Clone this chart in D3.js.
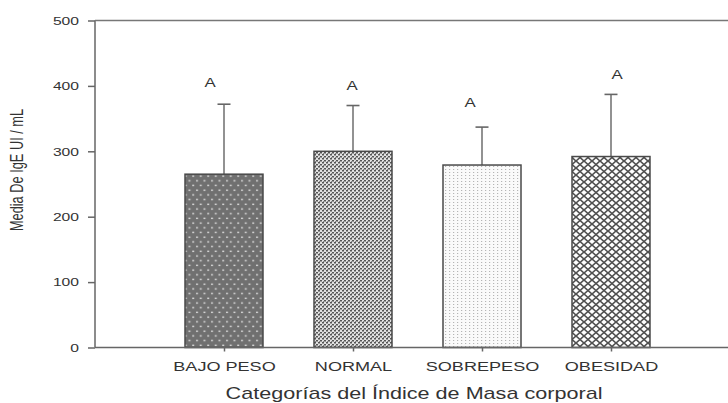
<!DOCTYPE html>
<html>
<head>
<meta charset="utf-8">
<script src="https://cdn.jsdelivr.net/npm/d3@7"></script>
<style>
  body { margin: 0; background: #fff; }
  svg { display: block; font-family: "Liberation Sans", Arial, sans-serif; }
</style>
</head>
<body>
<svg width="728" height="403"></svg>
<script>
// data
const categories = ["BAJO PESO", "NORMAL", "SOBREPESO", "OBESIDAD"];
const means = [265, 300, 279, 292];
const errTops = [372, 370, 337, 387];
const letters = ["A", "A", "A", "A"];
const letterLevels = [398, 393, 367, 410];
const yTicks = [0, 100, 200, 300, 400, 500];
const patterns = ["pBajo", "pNormal", "pSobre", "pObes"];

const svg = d3.select("svg");
const plotLeft = 95, plotRight = 740, plotTop = 20.5, plotBottom = 347.5;
const stretch = 1.35; // the source picture is wider than tall text would be
const letterShift = [-14, -1, -12, 6];

const y = d3.scaleLinear().domain([0, 500]).range([plotBottom, plotTop]);
const x = d3.scalePoint().domain(categories).range([plotLeft, plotRight]).padding(1);
const barW = 78;

// fill patterns
const defs = svg.append("defs");

// dark gray with light dots, staggered
let p = defs.append("pattern").attr("id", "pBajo").attr("patternUnits", "userSpaceOnUse")
  .attr("width", 7.5).attr("height", 9.4);
p.append("rect").attr("width", 7.5).attr("height", 9.4).attr("fill", "#707070");
p.append("rect").attr("x", 1).attr("y", 1.5).attr("width", 2).attr("height", 1.4).attr("fill", "#d8d8d8");
p.append("rect").attr("x", 4.75).attr("y", 6.2).attr("width", 2).attr("height", 1.4).attr("fill", "#d8d8d8");

// dense weave
p = defs.append("pattern").attr("id", "pNormal").attr("patternUnits", "userSpaceOnUse")
  .attr("width", 4).attr("height", 4);
p.append("rect").attr("width", 4).attr("height", 4).attr("fill", "#e2e2e2");
p.append("rect").attr("x", 0).attr("y", 0).attr("width", 2).attr("height", 1.5).attr("fill", "#555");
p.append("rect").attr("x", 2).attr("y", 2).attr("width", 2).attr("height", 1.5).attr("fill", "#555");
p.append("rect").attr("x", 3).attr("y", 1).attr("width", 1).attr("height", 1).attr("fill", "#888");

// light fine dots
p = defs.append("pattern").attr("id", "pSobre").attr("patternUnits", "userSpaceOnUse")
  .attr("width", 4).attr("height", 3);
p.append("rect").attr("width", 4).attr("height", 3).attr("fill", "#fafafa");
p.append("rect").attr("x", 1).attr("y", 1).attr("width", 1.2).attr("height", 1).attr("fill", "#b5b5b5");

// crosshatch
p = defs.append("pattern").attr("id", "pObes").attr("patternUnits", "userSpaceOnUse")
  .attr("width", 8).attr("height", 7);
p.append("rect").attr("width", 8).attr("height", 7).attr("fill", "#fff");
p.append("path").attr("d", "M0,0L8,7M0,7L8,0")
  .attr("stroke", "#505050").attr("stroke-width", 1.6).attr("fill", "none");

const rows = categories.map((c, i) => ({
  cat: c, mean: means[i], top: errTops[i], letter: letters[i],
  level: letterLevels[i], shift: letterShift[i], pat: patterns[i]
}));

// error bars (drawn under the bars)
svg.selectAll(".err")
  .data(rows)
  .join("line")
    .attr("class", "err")
    .attr("x1", d => x(d.cat)).attr("x2", d => x(d.cat))
    .attr("y1", d => y(d.mean)).attr("y2", d => y(d.top))
    .attr("stroke", "#777").attr("stroke-width", 1.6);
svg.selectAll(".cap")
  .data(rows)
  .join("line")
    .attr("class", "cap")
    .attr("x1", d => x(d.cat) - 6.5).attr("x2", d => x(d.cat) + 6.5)
    .attr("y1", d => y(d.top)).attr("y2", d => y(d.top))
    .attr("stroke", "#666").attr("stroke-width", 1.6);

// bars
svg.selectAll(".bar")
  .data(rows)
  .join("rect")
    .attr("class", "bar")
    .attr("x", d => x(d.cat) - barW / 2)
    .attr("y", d => y(d.mean))
    .attr("width", barW)
    .attr("height", d => plotBottom - y(d.mean))
    .attr("fill", d => "url(#" + d.pat + ")")
    .attr("stroke", "#4a4a4a").attr("stroke-width", 1.5);

// letters
svg.selectAll(".lbl")
  .data(rows)
  .join("text")
    .attr("class", "lbl")
    .attr("transform", d => "translate(" + (x(d.cat) + d.shift) + "," + y(d.level) + ") scale(" + stretch + ",1)")
    .attr("text-anchor", "middle")
    .attr("font-size", 12.5)
    .attr("fill", "#333")
    .text(d => d.letter);

// y axis
const yAxis = svg.append("g")
  .attr("transform", "translate(" + plotLeft + ",0)")
  .call(d3.axisLeft(y).tickValues(yTicks).tickSize(7));
yAxis.selectAll("text")
  .attr("x", -16 / stretch)
  .attr("transform", "scale(" + stretch + ",1)")
  .attr("font-size", 11.6).attr("fill", "#333")
  .attr("font-family", "Liberation Sans, Arial, sans-serif");
yAxis.selectAll("line, path").attr("stroke", "#666").attr("stroke-width", 1.5);
yAxis.select("path").attr("d", "M0," + plotBottom + "V" + plotTop);

// x axis
const xAxis = svg.append("g")
  .attr("transform", "translate(0," + plotBottom + ")")
  .call(d3.axisBottom(x).tickSize(4).tickPadding(9.5));
xAxis.selectAll("text")
  .attr("transform", "scale(" + stretch + ",1)")
  .attr("font-size", 13.4).attr("fill", "#333")
  .attr("font-family", "Liberation Sans, Arial, sans-serif");
xAxis.selectAll("line, path").attr("stroke", "#666").attr("stroke-width", 1.5);
xAxis.select("path").attr("d", "M" + plotLeft + ",0H" + plotRight);

// top frame line
svg.append("line")
  .attr("x1", plotLeft).attr("x2", plotRight)
  .attr("y1", plotTop).attr("y2", plotTop)
  .attr("stroke", "#777").attr("stroke-width", 1.5);

// axis titles
svg.append("text")
  .attr("transform", "translate(23,170) scale(1.5,1) rotate(-90)")
  .attr("text-anchor", "middle")
  .attr("font-size", 12.8)
  .attr("fill", "#333")
  .text("Media De IgE UI / mL");

svg.append("text")
  .attr("transform", "translate(414,398.5) scale(" + stretch + ",1)")
  .attr("text-anchor", "middle")
  .attr("font-size", 16)
  .attr("fill", "#333")
  .text("Categorías del Índice de Masa corporal");
</script>
</body>
</html>
